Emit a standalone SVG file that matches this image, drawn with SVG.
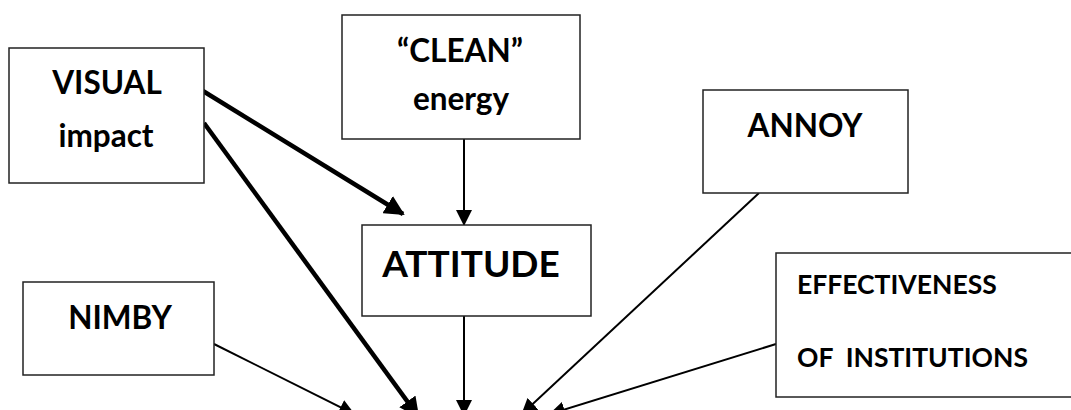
<svg xmlns="http://www.w3.org/2000/svg" width="1071" height="410" viewBox="0 0 1071 410">
<style>
.box{fill:#fff;stroke:#222;stroke-width:1.5}
.t{font-family:Lato,"Liberation Sans",sans-serif;font-weight:bold;fill:#000}
.m{font-size:31.5px;text-anchor:middle}
.thin{stroke:#000;stroke-width:2;fill:none}
.thick{stroke:#000;stroke-width:4.5;fill:none}
</style>
<defs>
<marker id="ah" viewBox="0 0 16 16" refX="15" refY="8" markerWidth="16" markerHeight="16" markerUnits="userSpaceOnUse" orient="auto">
<path d="M0,0 L16,8 L0,16 z" fill="#000"/>
</marker>
<marker id="ahk" viewBox="0 0 20 20" refX="18" refY="10" markerWidth="20" markerHeight="20" markerUnits="userSpaceOnUse" orient="auto">
<path d="M0,0 L20,10 L0,20 z" fill="#000"/>
</marker>
</defs>
<rect width="1071" height="410" fill="#fff"/>
<g id="connectors">
<line class="thick" x1="203" y1="91" x2="403" y2="214" marker-end="url(#ahk)"/>
<line class="thick" x1="204" y1="123" x2="418" y2="416" marker-end="url(#ahk)"/>
<line class="thin" x1="464" y1="139" x2="464" y2="225" marker-end="url(#ah)"/>
<line class="thin" x1="464" y1="316" x2="464" y2="415" marker-end="url(#ah)"/>
<line class="thin" x1="214" y1="344" x2="354" y2="414" marker-end="url(#ah)"/>
<line class="thin" x1="759" y1="193" x2="522" y2="414" marker-end="url(#ah)"/>
<line class="thin" x1="776" y1="344" x2="550" y2="414" marker-end="url(#ah)"/>
</g>
<g id="visual">
<rect class="box" x="9" y="48" width="195" height="135"/>
<text class="t m" x="107" y="94">VISUAL</text>
<text class="t m" x="106" y="147">impact</text>
</g>
<g id="clean">
<rect class="box" x="342" y="15" width="238" height="124"/>
<text class="t m" x="460" y="62">“CLEAN”</text>
<text class="t m" x="461" y="110">energy</text>
</g>
<g id="annoy">
<rect class="box" x="703" y="90" width="205" height="103"/>
<text class="t m" x="805" y="137">ANNOY</text>
</g>
<g id="nimby">
<rect class="box" x="23" y="282" width="191" height="93"/>
<text class="t m" x="120" y="329">NIMBY</text>
</g>
<g id="attitude">
<rect class="box" x="362" y="225" width="229" height="91"/>
<text class="t" x="471" y="277" font-size="37" text-anchor="middle">ATTITUDE</text>
</g>
<g id="effectiveness">
<rect class="box" x="776" y="253" width="300" height="144"/>
<text class="t" x="797" y="294" font-size="26.5">EFFECTIVENESS</text>
<text class="t" x="797" y="367" font-size="26.5" xml:space="preserve">OF  INSTITUTIONS</text>
</g>
</svg>
